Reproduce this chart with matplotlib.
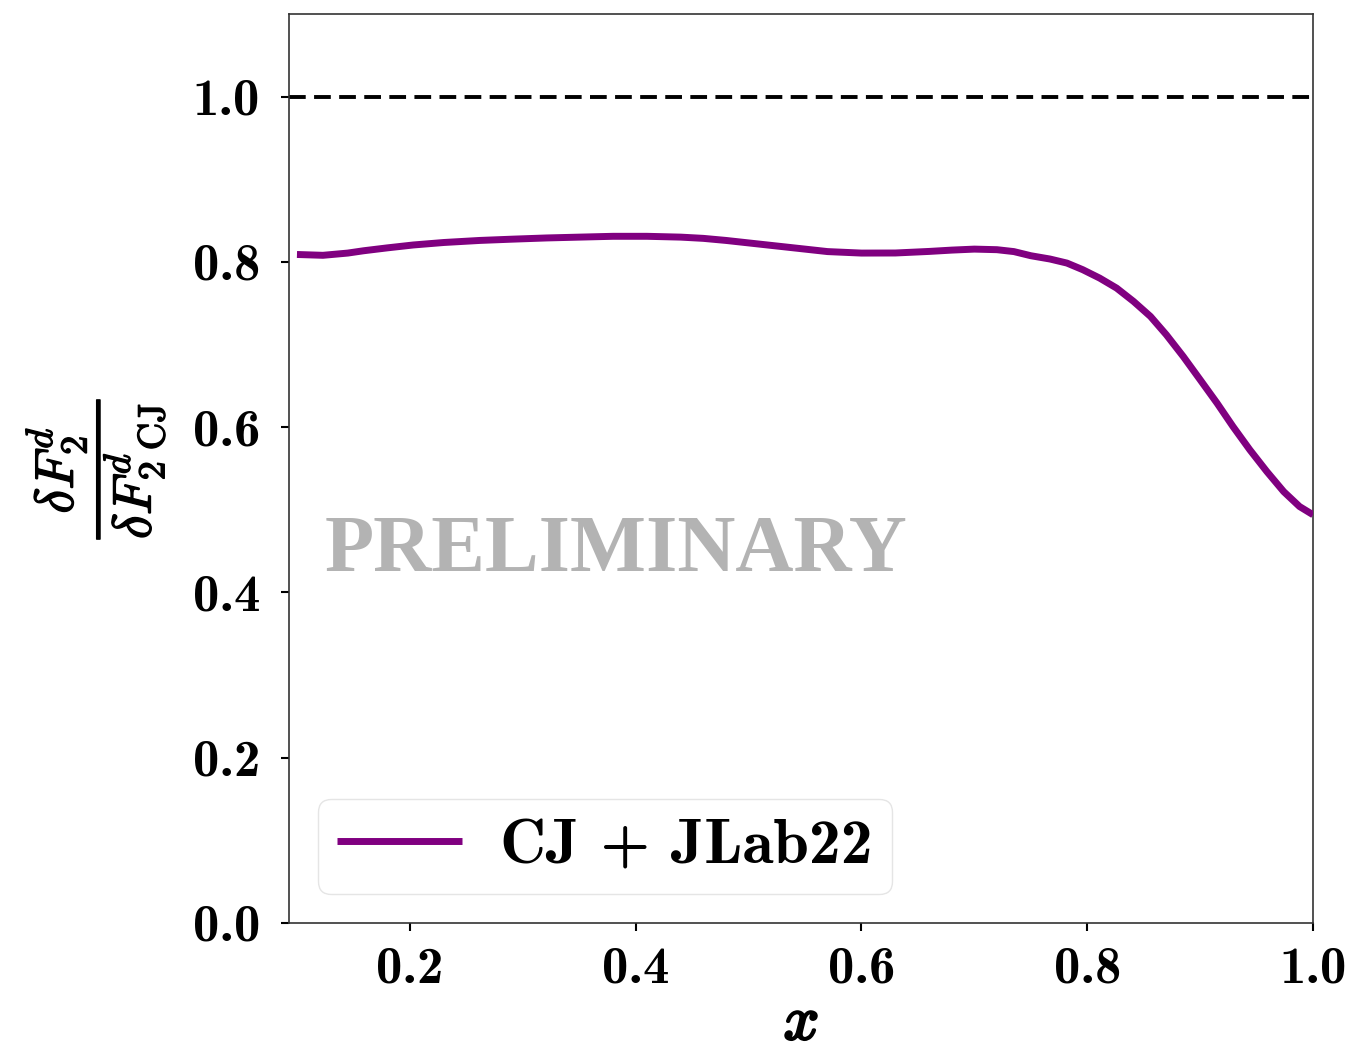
import numpy as np
import matplotlib
matplotlib.use("Agg")
import matplotlib.pyplot as plt
import matplotlib.patheffects as pe

plt.rcParams['mathtext.fontset'] = 'cm'

# data
x_vals = [0.100, 0.123, 0.145, 0.159, 0.180, 0.203, 0.230, 0.262, 0.290, 0.321,
          0.350, 0.380, 0.410, 0.440, 0.460, 0.480, 0.510, 0.540, 0.570, 0.600,
          0.630, 0.660, 0.680, 0.700, 0.720, 0.735, 0.750, 0.767, 0.782, 0.796,
          0.811, 0.826, 0.841, 0.856, 0.870, 0.885, 0.900, 0.915, 0.929, 0.944,
          0.959, 0.974, 0.988, 1.000]
ratio_vals = [0.809, 0.808, 0.8107, 0.8135, 0.817, 0.8205, 0.8235, 0.826, 0.8275, 0.829,
              0.830, 0.831, 0.831, 0.830, 0.8285, 0.826, 0.8215, 0.817, 0.8125, 0.8107,
              0.8108, 0.8127, 0.8143, 0.8155, 0.8148, 0.8125, 0.8075, 0.8035, 0.7986, 0.7906,
              0.7804, 0.7683, 0.7522, 0.734, 0.7119, 0.6856, 0.6574, 0.629, 0.6009, 0.5726,
              0.5464, 0.522, 0.504, 0.494]
ref_level = 1.0
series_label = 'CJ + JLab22'
xticks = [0.2, 0.4, 0.6, 0.8, 1.0]
yticks = [0.0, 0.2, 0.4, 0.6, 0.8, 1.0]

fig = plt.figure(figsize=(13.59, 10.54), dpi=100)
ax = fig.add_axes([0.2127, 0.1243, 0.9662 - 0.2127, 0.9867 - 0.1243])

ax.plot(x_vals, ratio_vals, color='#800080', lw=5, label=series_label, zorder=3,
        solid_joinstyle='round', solid_capstyle='butt')
ax.axhline(ref_level, color='black', lw=2.8, ls=(0, (4.3, 2.15)))

ax.set_xlim(0.093, 1.0)
ax.set_ylim(0.0, 1.1)
ax.set_xticks(xticks)
ax.set_yticks(yticks)
ax.set_xticklabels([f'{t:.1f}' for t in xticks], fontfamily='cmb10', fontsize=38)
ax.set_yticklabels([f'{t:.1f}' for t in yticks], fontfamily='cmb10', fontsize=38)
ax.tick_params(axis='both', length=6, width=1.5)
ax.tick_params(axis='x', pad=11)
ax.tick_params(axis='y', pad=15)
for s in ax.spines.values():
    s.set_color('#333333')
    s.set_linewidth(1.2)

xl = ax.set_xlabel(r'$x$', fontsize=45, labelpad=0)
xl.set_path_effects([pe.withStroke(linewidth=1.8, foreground='black')])
yl = ax.set_ylabel(r'$\dfrac{\delta F_2^d}{\delta F^d_{2\ \mathrm{CJ}}}$',
                   fontsize=39, labelpad=18)
yl.set_path_effects([pe.withStroke(linewidth=1.0, foreground='black')])

ax.text(0.383, 0.449, 'PRELIMINARY', color='#b3b3b3', fontsize=58,
        fontfamily='Liberation Serif', fontweight='bold', ha='center', va='center')

leg = ax.legend(loc='lower left', prop={'family': 'cmb10', 'size': 46},
                handlelength=1.95, handletextpad=0.6, borderpad=0.3,
                borderaxespad=0.45, framealpha=1, edgecolor='#e5e5e5')

fig.savefig('out.png', dpi=100)
